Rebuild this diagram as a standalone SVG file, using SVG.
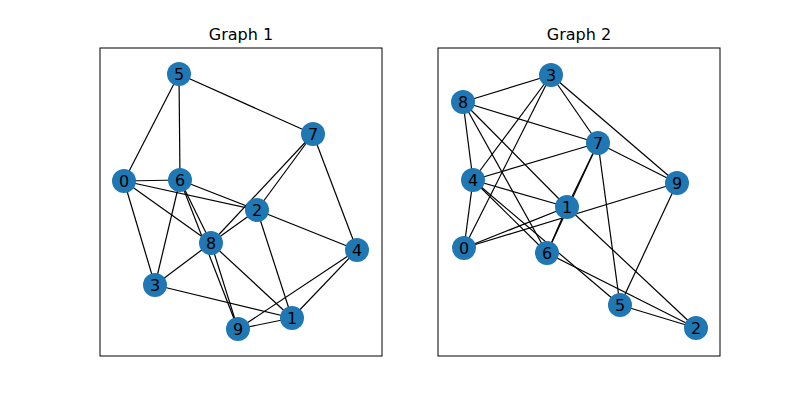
<svg xmlns="http://www.w3.org/2000/svg" width="800" height="400" viewBox="0 0 800 400">
<style>
.e line{stroke:#000;stroke-width:1.2}
.n circle{fill:#1f77b4}
.n text{font-family:"DejaVu Sans",sans-serif;font-size:16px;text-anchor:middle;dominant-baseline:central;fill:#000}
.t{font-family:"DejaVu Sans",sans-serif;font-size:16px;text-anchor:middle}
.f{fill:none;stroke:#000;stroke-width:1}
</style>
<rect width="800" height="400" fill="#fff"/>
<rect class="f" x="100" y="48" width="282" height="308"/>
<rect class="f" x="438" y="48" width="282" height="308"/>
<text class="t" x="241" y="40">Graph 1</text>
<text class="t" x="579" y="40">Graph 2</text>
<g class="e" id="edges1">
<line x1="179" y1="74" x2="124" y2="181"/><line x1="179" y1="74" x2="180" y2="180"/><line x1="179" y1="74" x2="313" y2="134"/>
<line x1="313" y1="134" x2="257" y2="210"/><line x1="313" y1="134" x2="211" y2="243"/><line x1="313" y1="134" x2="357" y2="250"/>
<line x1="124" y1="181" x2="180" y2="180"/><line x1="124" y1="181" x2="257" y2="210"/><line x1="124" y1="181" x2="211" y2="243"/><line x1="124" y1="181" x2="155" y2="285"/>
<line x1="180" y1="180" x2="257" y2="210"/><line x1="180" y1="180" x2="155" y2="285"/><line x1="180" y1="180" x2="211" y2="243"/><line x1="180" y1="180" x2="238" y2="329"/>
<line x1="211" y1="243" x2="238" y2="329"/><line x1="257" y1="210" x2="211" y2="243"/><line x1="257" y1="210" x2="357" y2="250"/><line x1="257" y1="210" x2="292" y2="318"/>
<line x1="211" y1="243" x2="155" y2="285"/><line x1="211" y1="243" x2="292" y2="318"/><line x1="155" y1="285" x2="292" y2="318"/>
<line x1="357" y1="250" x2="292" y2="318"/><line x1="357" y1="250" x2="238" y2="329"/><line x1="238" y1="329" x2="292" y2="318"/>
</g>
<g class="e" id="edges2">
<line x1="463" y1="102" x2="551" y2="75"/><line x1="463" y1="102" x2="598" y2="143"/><line x1="463" y1="102" x2="473" y2="180"/><line x1="463" y1="102" x2="567" y2="207"/><line x1="463" y1="102" x2="547" y2="253"/>
<line x1="551" y1="75" x2="473" y2="180"/><line x1="551" y1="75" x2="464" y2="248"/><line x1="551" y1="75" x2="598" y2="143"/><line x1="551" y1="75" x2="677" y2="183"/>
<line x1="598" y1="143" x2="473" y2="180"/><line x1="598" y1="143" x2="677" y2="183"/><line x1="598" y1="143" x2="567" y2="207"/><line x1="598" y1="143" x2="547" y2="253"/><line x1="598" y1="143" x2="620" y2="305"/>
<line x1="473" y1="180" x2="567" y2="207"/><line x1="473" y1="180" x2="547" y2="253"/><line x1="473" y1="180" x2="464" y2="248"/><line x1="473" y1="180" x2="620" y2="305"/>
<line x1="567" y1="207" x2="464" y2="248"/><line x1="464" y1="248" x2="677" y2="183"/><line x1="567" y1="207" x2="547" y2="253"/><line x1="567" y1="207" x2="696" y2="328"/>
<line x1="547" y1="253" x2="696" y2="328"/><line x1="620" y1="305" x2="696" y2="328"/><line x1="677" y1="183" x2="620" y2="305"/>
</g>
<g class="n" id="n1_5"><circle cx="179" cy="74" r="12"/><text x="179" y="74">5</text></g>
<g class="n" id="n1_7"><circle cx="313" cy="134" r="12"/><text x="313" y="134">7</text></g>
<g class="n" id="n1_0"><circle cx="124" cy="181" r="12"/><text x="124" y="181">0</text></g>
<g class="n" id="n1_6"><circle cx="180" cy="180" r="12"/><text x="180" y="180">6</text></g>
<g class="n" id="n1_2"><circle cx="257" cy="210" r="12"/><text x="257" y="210">2</text></g>
<g class="n" id="n1_8"><circle cx="211" cy="243" r="12"/><text x="211" y="243">8</text></g>
<g class="n" id="n1_4"><circle cx="357" cy="250" r="12"/><text x="357" y="250">4</text></g>
<g class="n" id="n1_3"><circle cx="155" cy="285" r="12"/><text x="155" y="285">3</text></g>
<g class="n" id="n1_1"><circle cx="292" cy="318" r="12"/><text x="292" y="318">1</text></g>
<g class="n" id="n1_9"><circle cx="238" cy="329" r="12"/><text x="238" y="329">9</text></g>
<g class="n" id="n2_3"><circle cx="551" cy="75" r="12"/><text x="551" y="75">3</text></g>
<g class="n" id="n2_8"><circle cx="463" cy="102" r="12"/><text x="463" y="102">8</text></g>
<g class="n" id="n2_7"><circle cx="598" cy="143" r="12"/><text x="598" y="143">7</text></g>
<g class="n" id="n2_4"><circle cx="473" cy="180" r="12"/><text x="473" y="180">4</text></g>
<g class="n" id="n2_9"><circle cx="677" cy="183" r="12"/><text x="677" y="183">9</text></g>
<g class="n" id="n2_1"><circle cx="567" cy="207" r="12"/><text x="567" y="207">1</text></g>
<g class="n" id="n2_0"><circle cx="464" cy="248" r="12"/><text x="464" y="248">0</text></g>
<g class="n" id="n2_6"><circle cx="547" cy="253" r="12"/><text x="547" y="253">6</text></g>
<g class="n" id="n2_5"><circle cx="620" cy="305" r="12"/><text x="620" y="305">5</text></g>
<g class="n" id="n2_2"><circle cx="696" cy="328" r="12"/><text x="696" y="328">2</text></g>
</svg>
